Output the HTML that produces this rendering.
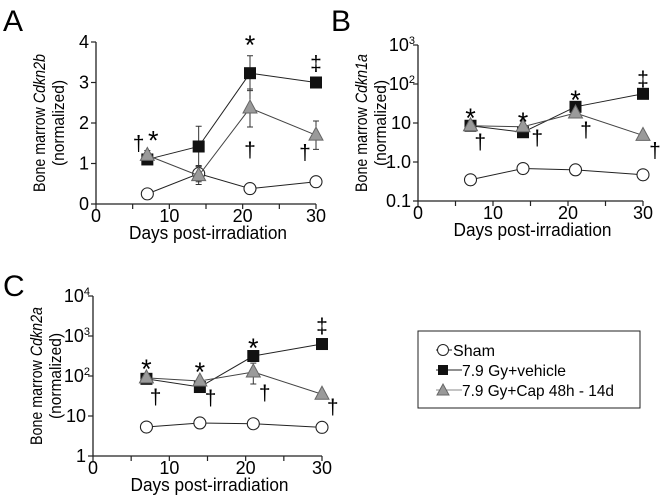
<!DOCTYPE html>
<html><head><meta charset="utf-8"><style>
body{margin:0;background:#fff}
svg{display:block;font-family:"Liberation Sans",Arial,sans-serif}
</style></head><body>
<svg id="fig" width="660" height="500" viewBox="0 0 660 500">
<text x="3" y="31" font-size="30">A</text>
<text x="331" y="31" font-size="30">B</text>
<text x="3" y="296" font-size="30">C</text>
<g>
<rect x="418" y="331" width="222" height="77" fill="#fff" stroke="#222" stroke-width="1"/>
<g><line x1="436" x2="452" y1="350" y2="350" stroke="#222"/><circle cx="443" cy="350" r="5.5" fill="#fff" stroke="#222"/><text x="453" y="356" font-size="16" textLength="42" lengthAdjust="spacingAndGlyphs">Sham</text></g>
<g><line x1="436" x2="462" y1="370" y2="370" stroke="#222"/><rect x="438" y="365" width="10" height="10" fill="#111"/><text x="462" y="376" font-size="16" textLength="104" lengthAdjust="spacingAndGlyphs">7.9 Gy+vehicle</text></g>
<g><line x1="436" x2="462" y1="390" y2="390" stroke="#888"/><polygon points="443,384 449,395 437,395" fill="#999" stroke="#666"/><text x="462" y="396" font-size="16" textLength="152" lengthAdjust="spacingAndGlyphs">7.9 Gy+Cap 48h - 14d</text></g>
</g>
</svg>
<script>
const days=[7,14,21,30];
const aSham=[0.25,0.75,0.38,0.55];
const aVeh=[1.1,1.42,3.23,3.0];
const aCap=[1.2,0.7,2.37,1.7];
const aVehErr=[0.08,0.5,0.43,0.08];
const aCapErr=[0.12,0.22,0.47,0.35];
const aShamErr=[0,0.2,0,0];
const bSham=[0.35,0.68,0.63,0.47];
const bVeh=[8.5,5.8,26,56];
const bCap=[8.5,8,18,4.8];
const cSham=[5.3,6.7,6.4,5.2];
const cVeh=[85,53,316,630];
const cCap=[90,75,126,35];
const cCapLo=[90,75,63,35];
const cCapHi=[90,75,210,35];
const xTicks=[0,10,20,30];
const aYTicks=[0,1,2,3,4];
const bYTicks=["0.1","1.0","10","10^2","10^3"];
const cYTicks=["1","10","10^2","10^3","10^4"];

const NS="http://www.w3.org/2000/svg";
const svg=document.getElementById('fig');
function el(tag,attrs,parent){const e=document.createElementNS(NS,tag);for(const k in attrs)e.setAttribute(k,attrs[k]);(parent||svg).appendChild(e);return e;}

function panel(o){
  const g=el('g',{});
  
  
  const X=d=>o.x0+(o.x1-o.x0)*d/30;
  const Y=v=>o.log?o.yb-(o.yb-o.yt)*(Math.log10(v)-o.lmin)/(o.lmax-o.lmin):o.yb-(o.yb-o.yt)*v/o.ymax;
  const ax=el('path',{d:`M${o.x0} ${o.yt} V${o.yb} H${o.x1}`,stroke:'#222','stroke-width':1.3,fill:'none'},g);
  
  
  for(let d=0;d<=30;d+=5){el('line',{x1:X(d),x2:X(d),y1:o.yb,y2:o.yb+5,stroke:'#222','stroke-width':1.2},g);}
  xTicks.forEach(t=>{const tx=el('text',{x:X(t),y:o.yb+18,'font-size':18,'text-anchor':'middle'},g);tx.textContent=t;
    });
  o.yticks.forEach((t,i)=>{
    const yy=o.yb-(o.yb-o.yt)*i/(o.yticks.length-1);
    el('line',{x1:o.x0-5,x2:o.x0,y1:yy,y2:yy,stroke:'#222','stroke-width':1.2},g);
    const tx=el('text',{x:o.x0-7,y:yy+6,'font-size':18,'text-anchor':'end'},g);
    
    const s=String(t);
    if(s.includes('^')){const [b,e]=s.split('^');tx.textContent=b;const sp=el('tspan',{dy:-7,'font-size':11},tx);sp.textContent=e;tx.setAttribute('x',o.x0-3);}
    else tx.textContent=s;
  });
  const xt=el('text',{x:(o.x0+o.x1)/2+2,y:o.yb+35,'font-size':18,'text-anchor':'middle',textLength:158,lengthAdjust:'spacingAndGlyphs'},g);
  xt.textContent='Days post-irradiation';
  
  const cy=(o.yt+o.yb)/2;
  const yt=el('text',{transform:`translate(${o.x0-51},${cy}) rotate(-90)`,'font-size':17,'text-anchor':'middle',textLength:138,lengthAdjust:'spacingAndGlyphs'},g);
  yt.innerHTML='Bone marrow <tspan font-style="italic">'+o.gene+'</tspan>';
  
  const yt2=el('text',{transform:`translate(${o.x0-32},${cy}) rotate(-90)`,'font-size':17,'text-anchor':'middle',textLength:86,lengthAdjust:'spacingAndGlyphs'},g);
  yt2.textContent='(normalized)';
  
  function series(vals,lo,hi,type,nm){
    const sg=el('g',{},g);
    
    el('polyline',{points:days.map((d,i)=>X(d)+','+Y(vals[i])).join(' '),fill:'none',stroke:type==='tri'?'#444':'#222','stroke-width':1},sg);
    days.forEach((d,i)=>{
      if(lo&&hi&&hi[i]!==lo[i]){const x=X(d);el('path',{d:`M${x} ${Y(hi[i])}V${Y(lo[i])}M${x-3} ${Y(hi[i])}h6M${x-3} ${Y(lo[i])}h6`,stroke:'#333','stroke-width':1},sg);}
      const x=X(d),y=Y(vals[i]);let m;
      if(type==='circ')m=el('circle',{cx:x,cy:y,r:6,fill:'#fff',stroke:'#222','stroke-width':1.1},sg);
      else if(type==='sq')m=el('rect',{x:x-6,y:y-6,width:12,height:12,fill:'#111'},sg);
      else m=el('polygon',{points:`${x},${y-8} ${x+7},${y+5} ${x-7},${y+5}`,fill:'#9a9a9a',stroke:'#666','stroke-width':1},sg);
      
    });
  }
  series(o.sham,o.shamLo,o.shamHi,'circ','series-sham');
  series(o.veh,o.vehLo,o.vehHi,'sq','series-vehicle');
  series(o.cap,o.capLo,o.capHi,'tri','series-cap');
  o.notes.forEach(n=>{const t=el('text',{x:X(n[0]),y:Y(n[1])+n[3],'font-size':n[2]==='*'?27:21,'text-anchor':'middle'},g);t.textContent=n[2];
    });
}
const sub=(a,b)=>a.map((v,i)=>v-b[i]), add=(a,b)=>a.map((v,i)=>v+b[i]);
panel({name:'panel-a-cdkn2b',gene:'Cdkn2b',x0:96,x1:316,yt:42,yb:204,log:false,ymax:4,yticks:aYTicks,
  sham:aSham,shamLo:sub(aSham,aShamErr),shamHi:add(aSham,aShamErr),
  veh:aVeh,vehLo:sub(aVeh,aVehErr),vehHi:add(aVeh,aVehErr),
  cap:aCap,capLo:sub(aCap,aCapErr),capHi:add(aCap,aCapErr),
  notes:[[5.8,1.35,'†',1],[7.8,1.35,'*',0],[21,3.8,'*',4],[30,3.2,'‡',-4],[21,2.0,'†',34],[28.5,1.4,'†',12]]});
panel({name:'panel-b-cdkn1a',gene:'Cdkn1a',x0:418,x1:643,yt:45,yb:201,log:true,lmin:-1,lmax:3,yticks:bYTicks,
  sham:bSham,veh:bVeh,cap:bCap,
  notes:[[7,8.5,'*',1],[14,8,'*',4],[21,26,'*',2],[30,56,'‡',-8],[8.3,8.5,'†',23],[15.9,5.8,'†',13],[22.4,18,'†',24],[31.6,4.8,'†',22]]});
panel({name:'panel-c-cdkn2a',gene:'Cdkn2a',x0:93,x1:322,yt:296,yb:456,log:true,lmin:0,lmax:4,yticks:cYTicks,
  sham:cSham,veh:cVeh,cap:cCap,capLo:cCapLo,capHi:cCapHi,
  notes:[[7,90,'*',0],[14,75,'*',0],[21,316,'*',1],[30,630,'‡',-11],[8.2,90,'†',26],[15.4,53,'†',18],[22.5,126,'†',28],[31.4,35,'†',20]]});
</script>
</body></html>
